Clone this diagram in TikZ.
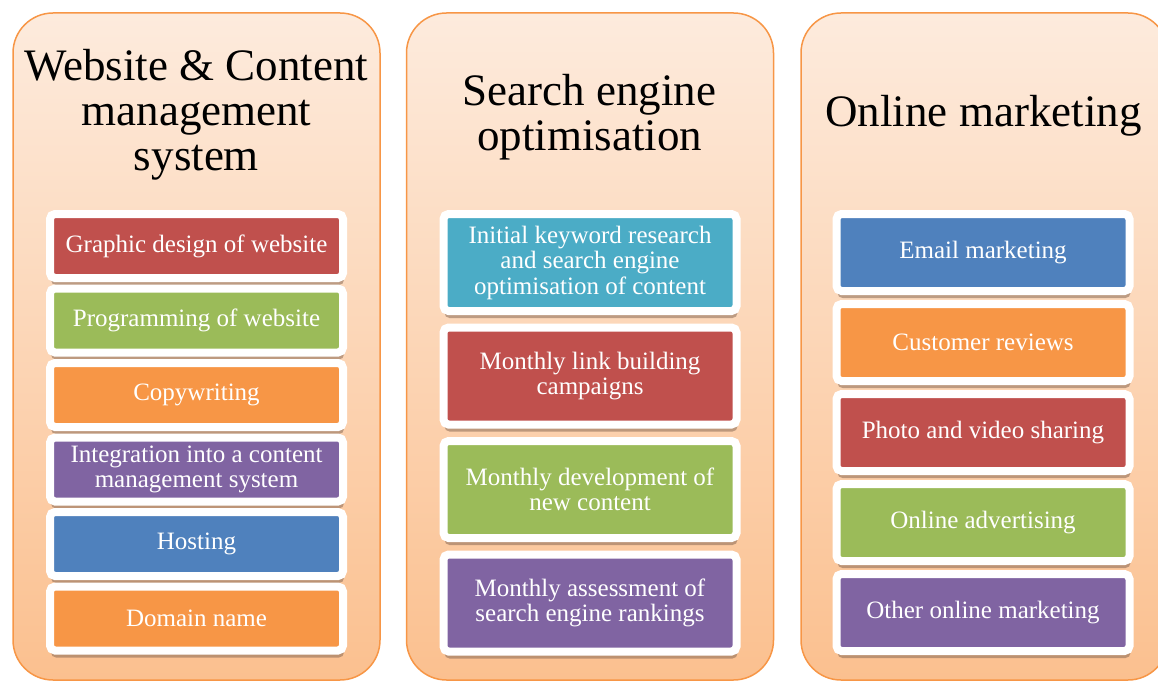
\documentclass[tikz,border=0pt]{standalone}
\usepackage{fontspec}
\setmainfont{Liberation Serif}
\usetikzlibrary{
  shadows,
  positioning
}

\definecolor{colborder}{HTML}{F79646}
\definecolor{coltop}{HTML}{FDEBDD}
\definecolor{colbot}{HTML}{FBC08F}
\definecolor{boxred}{HTML}{C0504D}
\definecolor{boxgreen}{HTML}{9BBB59}
\definecolor{boxorange}{HTML}{F79646}
\definecolor{boxpurple}{HTML}{8064A2}
\definecolor{boxblue}{HTML}{4F81BD}
\definecolor{boxaqua}{HTML}{4BACC6}
\definecolor{shadowc}{HTML}{8A6A55}

\tikzset{
  column/.style = {draw=colborder, line width=1.5pt, rounded corners=40pt,
    top color=coltop, bottom color=colbot,
    minimum width=367pt, minimum height=667pt, inner sep=0pt},
  title/.style = {align=center, inner sep=0pt, anchor=base,
    font=\fontsize{45}{45}\selectfont},
  item/.style = {fill=#1, draw=white, line width=8pt, rounded corners=5pt,
    text=white, align=center, minimum width=293pt, inner sep=0pt,
    font=\fontsize{25}{25.5}\selectfont,
    drop shadow={shadow xshift=1pt, shadow yshift=-7pt, opacity=0.55, fill=shadowc}}
}

\begin{document}
\begin{tikzpicture}[x=1pt, y=-1pt]
    \useasboundingbox (0,0) rectangle (1158,682);
    \clip (0,0) rectangle (1158,682);

    \node[column] (web) at (196.5,346.5) {};
    \node[column] (seo) at (590,346.5) {};
    \node[column] (online) at (984.5,346.5) {};

    % titles sit on the baseline of their last line
    \node[title] (t1) at (196.5,170) {Website \& Content\\management\\system};
    \node[title] (t2) at (589.5,150) {Search engine\\optimisation};
    \node[title] (t3) at (983.5,127) {Online marketing};

    % website column
    \node[item=boxred,minimum height=64pt] (w1) at (196.5,246) {Graphic design of website};
    \node[item=boxgreen,minimum height=64pt,below = 2.5pt of w1] (w2) {Programming of website};
    \node[item=boxorange,minimum height=64pt,below = 2.5pt of w2] (w3) {Copywriting};
    \node[item=boxpurple,minimum height=64pt,below = 2.5pt of w3] (w4) {Integration into a content\\management system};
    \node[item=boxblue,minimum height=64pt,below = 2.5pt of w4] (w5) {Hosting};
    \node[item=boxorange,minimum height=64pt,below = 2.5pt of w5] (w6) {Domain name};

    % seo column
    \node[item=boxaqua,minimum height=97pt] (s1) at (590,262.5) {Initial keyword research\\and search engine\\optimisation of content};
    \node[item=boxred,minimum height=97pt,below = 8.5pt of s1] (s2) {Monthly link building\\campaigns};
    \node[item=boxgreen,minimum height=97pt,below = 8.5pt of s2] (s3) {Monthly development of\\new content};
    \node[item=boxpurple,minimum height=97pt,below = 8.5pt of s3] (s4) {Monthly assessment of\\search engine rankings};

    % online column
    \node[item=boxblue,minimum height=77pt] (o1) at (983,252.5) {Email marketing};
    \node[item=boxorange,minimum height=77pt,below = 5pt of o1] (o2) {Customer reviews};
    \node[item=boxred,minimum height=77pt,below = 5pt of o2] (o3) {Photo and video sharing};
    \node[item=boxgreen,minimum height=77pt,below = 5pt of o3] (o4) {Online advertising};
    \node[item=boxpurple,minimum height=77pt,below = 5pt of o4] (o5) {Other online marketing};
\end{tikzpicture}
\end{document}
